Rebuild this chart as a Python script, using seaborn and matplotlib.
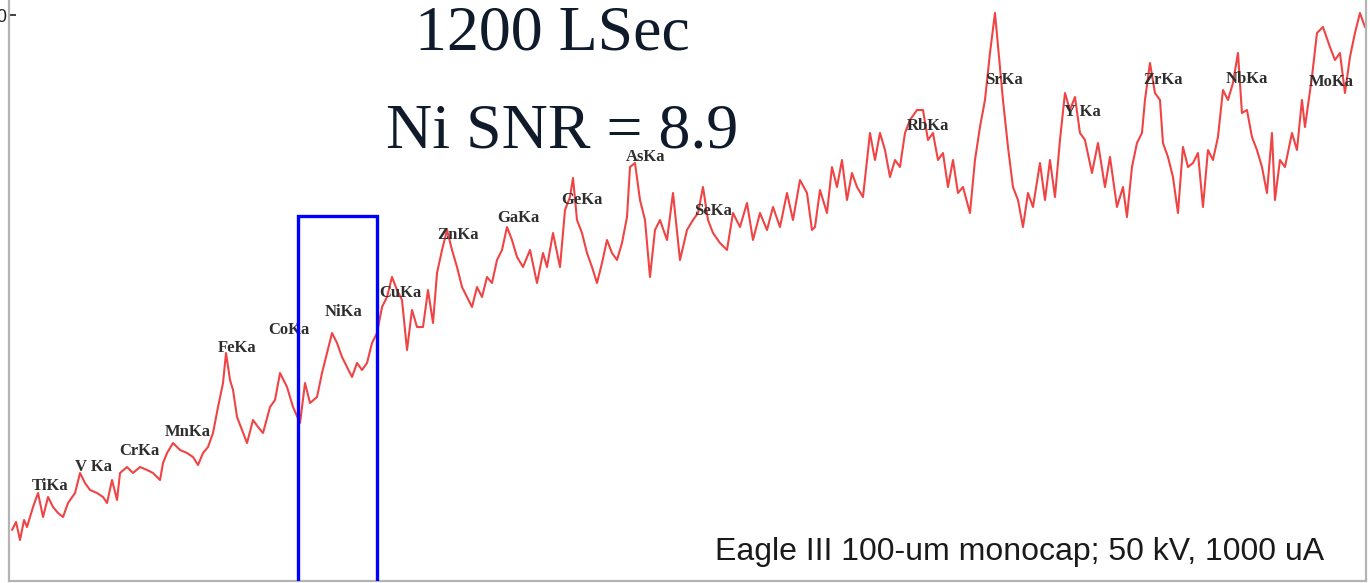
import numpy as np
import matplotlib
matplotlib.use("Agg")
import matplotlib.pyplot as plt
from matplotlib.patches import Rectangle
import seaborn as sns

# Spectrum: detector channel and counts (arbitrary count scale)
channel = [
    12, 16, 20, 24, 27, 33, 38, 43, 48, 53, 58, 63, 68, 75, 80, 85, 90, 97, 103, 107,
    112, 117, 120, 127, 133, 140, 147, 153, 160, 163, 167, 173, 180, 187, 193, 198, 203, 208, 213, 218,
    223, 226, 230, 233, 237, 242, 247, 253, 258, 263, 270, 275, 280, 287, 293, 300, 305, 310, 317, 322,
    327, 332, 337, 342, 347, 352, 357, 362, 367, 372, 377, 382, 387, 392, 397, 402, 407, 412, 417, 423,
    428, 433, 437, 442, 447, 452, 457, 462, 467, 472, 477, 482, 487, 492, 497, 502, 507, 512, 517, 523,
    530, 537, 543, 547, 553, 560, 565, 570, 573, 577, 582, 587, 592, 597, 602, 607, 612, 617, 622, 627,
    630, 635, 640, 645, 650, 655, 660, 667, 673, 680, 687, 693, 698, 703, 708, 713, 720, 727, 733, 740,
    747, 753, 760, 767, 773, 780, 787, 793, 800, 807, 812, 815, 820, 827, 832, 837, 842, 847, 852, 857,
    863, 870, 875, 880, 885, 890, 895, 900, 905, 910, 917, 923, 928, 933, 938, 943, 948, 953, 958, 963,
    970, 975, 980, 985, 990, 995, 1000, 1003, 1008, 1013, 1018, 1023, 1028, 1033, 1040, 1045, 1050, 1055, 1060, 1065,
    1070, 1075, 1080, 1085, 1092, 1098, 1105, 1110, 1117, 1123, 1127, 1132, 1137, 1142, 1145, 1150, 1155, 1160, 1163, 1168,
    1173, 1178, 1183, 1188, 1193, 1198, 1203, 1208, 1213, 1218, 1223, 1228, 1233, 1238, 1242, 1247, 1252, 1257, 1262, 1267,
    1272, 1275, 1280, 1285, 1292, 1297, 1302, 1305, 1312, 1317, 1323, 1330, 1335, 1340, 1345, 1350, 1355, 1360, 1365,
]
counts = [
    55, 63, 45, 65, 58, 78, 92, 68, 88, 78, 72, 68, 82, 92, 112, 102, 95, 92, 88, 82,
    105, 85, 112, 118, 112, 118, 115, 112, 105, 122, 132, 142, 135, 132, 128, 120, 132, 138, 152, 178,
    202, 232, 205, 195, 168, 155, 142, 165, 158, 152, 178, 185, 212, 198, 178, 162, 202, 182, 188, 212,
    232, 252, 242, 228, 218, 208, 222, 215, 222, 242, 252, 278, 288, 308, 295, 285, 235, 275, 258, 258,
    295, 262, 312, 335, 355, 335, 318, 298, 288, 278, 298, 288, 308, 302, 325, 335, 358, 345, 328, 318,
    335, 302, 332, 318, 352, 318, 375, 388, 407, 365, 352, 332, 318, 302, 322, 345, 332, 325, 342, 368,
    418, 422, 385, 365, 308, 355, 365, 345, 392, 325, 355, 365, 372, 398, 365, 352, 342, 335, 372, 358,
    382, 345, 372, 355, 378, 358, 392, 365, 405, 392, 355, 358, 395, 372, 418, 398, 425, 385, 412, 398,
    388, 452, 425, 452, 435, 408, 425, 418, 452, 465, 475, 475, 445, 452, 425, 432, 398, 425, 392, 398,
    372, 425, 458, 485, 532, 572, 518, 485, 438, 398, 385, 358, 392, 378, 422, 385, 425, 388, 445, 492,
    475, 488, 452, 445, 412, 442, 398, 428, 378, 398, 368, 418, 442, 452, 485, 522, 492, 485, 442, 428,
    408, 372, 438, 418, 422, 432, 378, 435, 425, 448, 495, 485, 502, 532, 472, 475, 448, 435, 418, 392,
    452, 385, 425, 418, 452, 435, 485, 458, 508, 552, 558, 538, 525, 532, 492, 528, 552, 572, 558,
]

# Energy calibration (keV per channel and zero offset)
gain_kev = 0.010121
offset_kev = 4.0923
energy = offset_kev + gain_kev * np.asarray(channel, dtype=float)

# K-alpha line markers
line_names = ["TiKa", "V Ka", "CrKa", "MnKa", "FeKa", "CoKa", "NiKa", "CuKa", "ZnKa", "GaKa",
              "GeKa", "AsKa", "SeKa", "RbKa", "SrKa", "Y Ka", "ZrKa", "NbKa", "MoKa"]
line_kev = [4.51, 4.95, 5.41, 5.90, 6.40, 6.93, 7.48, 8.05, 8.64, 9.25,
            9.89, 10.54, 11.22, 13.39, 14.16, 14.96, 15.77, 16.62, 17.48]
label_counts = [99, 118, 134, 153, 237, 255, 273, 292, 350, 367,
                385, 428, 374, 459, 505, 473, 505, 506, 503]

# Ni region of interest
roi_kev = [7.11, 7.91]
roi_top = 369

sns.set_theme(style="white")
plt.rcParams["font.family"] = ["Liberation Sans", "DejaVu Sans"]

fig = plt.figure(figsize=(13.7, 5.83), dpi=100)
ax = fig.add_axes([8.5 / 1370, 2 / 583, (1366 - 8.5) / 1370, 581 / 583])

sns.lineplot(x=energy, y=counts, ax=ax, color="#f04444", linewidth=1.5,
             estimator=None, sort=False)

for name, e, c in zip(line_names, line_kev, label_counts):
    ax.text(e + 0.09, c, name, ha="center", va="center", fontsize=12,
            fontweight="bold", family="Liberation Serif", color="#2e2e2e")

ax.add_patch(Rectangle((roi_kev[0], -40), roi_kev[1] - roi_kev[0], roi_top + 40,
                       fill=False, edgecolor="#0000ff", linewidth=2.4, zorder=3))

ax.set_xlim(4.178, 17.918)
ax.set_ylim(4, 585)
ax.set_xticks([])
ax.set_yticks([570])
ax.set_yticklabels(["570"])
ax.tick_params(axis="y", direction="in", length=5, width=1.2, pad=1,
               labelsize=13, colors="#222222", left=True)
for side in ["left", "bottom", "right"]:
    ax.spines[side].set_color("#b4b4b4")
    ax.spines[side].set_linewidth(1.6)
ax.spines["top"].set_visible(False)

fig.text(552 / 1370, 1 - 49 / 583, "1200 LSec", ha="center", va="baseline",
         family="Liberation Serif", fontsize=46, color="#0f1a2a")
fig.text(562 / 1370, 1 - 147 / 583, "Ni SNR = 8.9", ha="center", va="baseline",
         family="Liberation Serif", fontsize=46, color="#0f1a2a")
fig.text(715 / 1370, 1 - 560 / 583, "Eagle III 100-um monocap; 50 kV, 1000 uA",
         ha="left", va="baseline", fontsize=23, color="#1a1a1a")

fig.savefig("out.png", dpi=100)
